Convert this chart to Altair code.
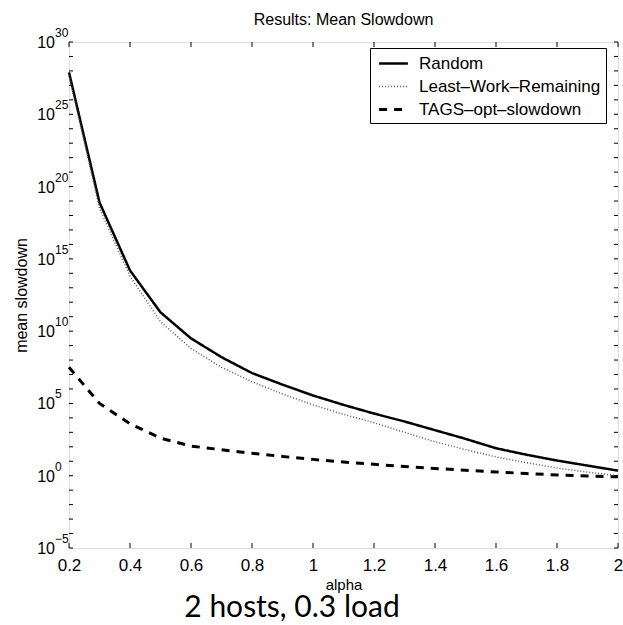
import altair as alt
import pandas as pd

# ---- data (log10 of mean slowdown) ----
alpha = [0.2, 0.3, 0.4, 0.5, 0.6, 0.7, 0.8, 0.9, 1.0, 1.1, 1.2, 1.3, 1.4, 1.5, 1.6, 1.7, 1.8, 1.9, 2.0]
random_log = [27.9, 18.9, 14.2, 11.3, 9.5, 8.2, 7.1, 6.3, 5.55, 4.9, 4.3, 3.75, 3.15, 2.55, 1.9, 1.45, 1.05, 0.7, 0.35]
lwr_log = [27.7, 18.5, 13.8, 10.65, 8.8, 7.5, 6.5, 5.65, 4.9, 4.25, 3.67, 3.0, 2.35, 1.8, 1.3, 0.9, 0.53, 0.25, 0.0]
tags_log = [7.5, 5.0, 3.6, 2.6, 2.05, 1.8, 1.55, 1.33, 1.13, 0.95, 0.79, 0.64, 0.5, 0.38, 0.26, 0.15, 0.05, -0.02, -0.08]

series = ["Random", "Least\u2013Work\u2013Remaining", "TAGS\u2013opt\u2013slowdown"]
x_ticks = [0.2, 0.4, 0.6, 0.8, 1.0, 1.2, 1.4, 1.6, 1.8, 2.0]
y_decades = list(range(-5, 31))
y_label_exps = [-5, 0, 5, 10, 15, 20, 25, 30]

title = "Results: Mean Slowdown"
caption = "2 hosts, 0.3 load"

# ---- tables ----
rows = []
for name, vals in zip(series, [random_log, lwr_log, tags_log]):
    for a, v in zip(alpha, vals):
        rows.append({"alpha": a, "slowdown": 10.0 ** v, "series": name})
df = pd.DataFrame(rows)

xt = pd.DataFrame({"alpha": x_ticks})
yt = pd.DataFrame({"slowdown": [10.0 ** e for e in y_decades]})
yl = pd.DataFrame({
    "slowdown": [10.0 ** e for e in y_label_exps],
    "base": ["10"] * len(y_label_exps),
    "exp": [str(e).replace("-", "\u2212") for e in y_label_exps],
})
cap = pd.DataFrame({"t": [caption]})

W, H = 549, 506
FONT = "Liberation Sans"

xscale = alt.Scale(domain=[0.2, 2.0], nice=False, zero=False)
yscale = alt.Scale(type="log", domain=[1e-5, 1e30], nice=False)

X = alt.X("alpha:Q", scale=xscale,
          axis=alt.Axis(values=x_ticks, format="~g", labelFlush=False, labelOverlap=False,
                        ticks=False, tickSize=0, domain=False, grid=False,
                        labelFont=FONT, labelFontSize=17, labelColor="black", labelPadding=9,
                        title="alpha", titleFont=FONT, titleFontSize=15, titleFontWeight="normal",
                        titleColor="black", titlePadding=4))
Y = alt.Y("slowdown:Q", scale=yscale,
          axis=alt.Axis(labels=False, ticks=False, domain=False, grid=False, minExtent=0,
                        title="mean slowdown", titleFont=FONT, titleFontSize=16,
                        titleFontWeight="normal", titleColor="black", titlePadding=40))

leg_common = dict(title=None, orient="none", legendX=301, legendY=6)
lines = alt.Chart(df).mark_line().encode(
    x=X,
    y=Y,
    color=alt.Color("series:N", sort=series,
                    scale=alt.Scale(domain=series, range=["black", "#555555", "black"]),
                    legend=alt.Legend(strokeColor="black", fillColor="white", padding=5,
                                      labelFont=FONT, labelFontSize=17, labelColor="black",
                                      labelLimit=400, symbolType="M-1.6,0H1.6", symbolSize=324,
                                      symbolOffset=8, labelOffset=15, rowPadding=4.5,
                                      **leg_common)),
    strokeDash=alt.StrokeDash("series:N", sort=series,
                              scale=alt.Scale(domain=series, range=[[1, 0], [1, 2], [8, 7]]),
                              legend=alt.Legend(**leg_common)),
    strokeWidth=alt.StrokeWidth("series:N", sort=series,
                                scale=alt.Scale(type="ordinal", domain=series, range=[2.5, 1.5, 3]),
                                legend=alt.Legend(**leg_common)),
)

tick_len = 5
xt_bottom = alt.Chart(xt).mark_rule(color="black", strokeWidth=1).encode(
    x=alt.X("alpha:Q", scale=xscale), y=alt.value(H), y2=alt.value(H - tick_len))
xt_top = alt.Chart(xt).mark_rule(color="black", strokeWidth=1).encode(
    x=alt.X("alpha:Q", scale=xscale), y=alt.value(0), y2=alt.value(tick_len))
yt_left = alt.Chart(yt).mark_rule(color="black", strokeWidth=1).encode(
    y=alt.Y("slowdown:Q", scale=yscale), x=alt.value(0), x2=alt.value(4))
yt_right = alt.Chart(yt).mark_rule(color="black", strokeWidth=1).encode(
    y=alt.Y("slowdown:Q", scale=yscale), x=alt.value(W), x2=alt.value(W - 4))

lab_base = alt.Chart(yl).mark_text(font=FONT, fontSize=16, align="right", baseline="middle",
                                   color="black", dy=1).encode(
    y=alt.Y("slowdown:Q", scale=yscale), x=alt.value(-14), text="base:N")
lab_exp = alt.Chart(yl).mark_text(font=FONT, fontSize=12, align="left", baseline="middle",
                                  color="black", dy=-9).encode(
    y=alt.Y("slowdown:Q", scale=yscale), x=alt.value(-14), text="exp:N")

cap_text = alt.Chart(cap).mark_text(font="Lato", fontSize=30, align="center",
                                    baseline="alphabetic", color="black").encode(
    x=alt.value(223), y=alt.value(575), text="t:N")

chart = alt.layer(lines, xt_bottom, xt_top, yt_left, yt_right, lab_base, lab_exp, cap_text).properties(
    width=W, height=H,
    title=alt.Title(title, font=FONT, fontSize=16, fontWeight="normal", color="black",
                    anchor="middle", offset=17, dy=18),
    autosize=alt.AutoSizeParams(type="none"),
    padding={"left": 69, "top": 42, "right": 5, "bottom": 77},
).configure_view(stroke="black", strokeWidth=1).configure(background="white")

chart.save("out.html", embed_options={"renderer": "svg", "actions": False})
